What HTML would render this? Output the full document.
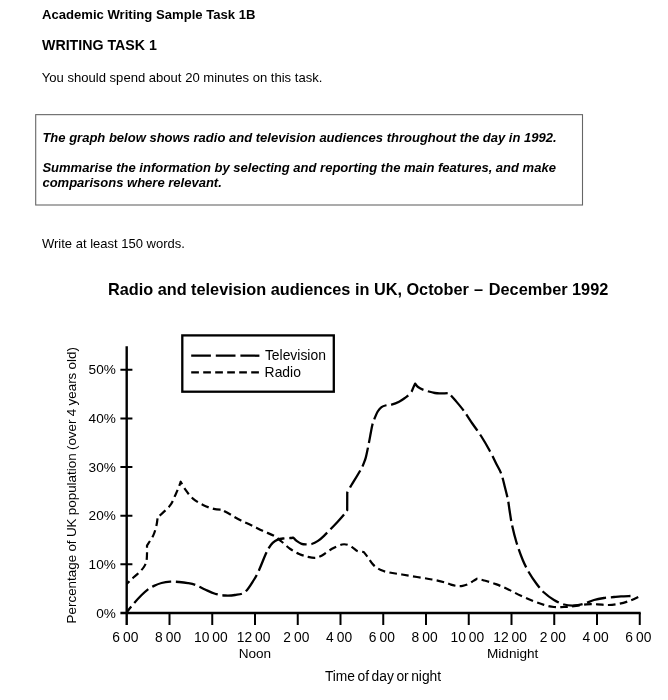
<!DOCTYPE html>
<html lang="en"><head><meta charset="utf-8"><title>Academic Writing Sample Task 1B</title>
<style>
html,body{margin:0;padding:0;background:#fff}
body{width:668px;height:700px;position:relative;overflow:hidden;font-family:"Liberation Sans",Arial,sans-serif;color:#000;font-size:13px}
.t{position:absolute;white-space:nowrap;line-height:15px;margin:0}
.b{font-weight:bold}
.bi{font-weight:bold;font-style:italic}
</style></head><body>
<div class="t b" style="left:42px;top:7.4px;font-size:13.1px">Academic Writing Sample Task 1B</div>
<div class="t b" style="left:42px;top:37.2px;font-size:14.2px;line-height:16px">WRITING TASK 1</div>
<div class="t" style="left:41.8px;top:70px;font-size:13.07px">You should spend about 20 minutes on this task.</div>
<div class="t bi" style="left:42.4px;top:130px;font-size:13.02px">The graph below shows radio and television audiences throughout the day in 1992.</div>
<div class="t bi" style="left:42.4px;top:160px;font-size:13.02px">Summarise the information by selecting and reporting the main features, and make</div>
<div class="t bi" style="left:42.4px;top:175.3px;font-size:13.02px">comparisons where relevant.</div>
<div class="t" style="left:42px;top:235.5px">Write at least 150 words.</div>
<div class="t b" style="left:107.9px;top:280.4px;font-size:16.3px;line-height:19px">Radio and television audiences in UK, October<span style="letter-spacing:0.6px"> – </span>December 1992</div>
<svg width="668" height="700" viewBox="0 0 668 700" style="position:absolute;left:0;top:0"><rect x="35.7" y="114.65" width="546.8" height="90.35" fill="none" stroke="#666" stroke-width="1.1"/><g fill="none" stroke="#000"><path d="M126.7,346.3V625" stroke-width="2.4"/><path d="M120.4,613.0H640.7" stroke-width="2.4"/><path d="M169.50,613.0V625M212.25,613.0V625M255.00,613.0V625M297.75,613.0V625M340.50,613.0V625M383.25,613.0V625M426.00,613.0V625M468.75,613.0V625M511.50,613.0V625M554.25,613.0V625M597.00,613.0V625M639.75,613.0V625M120.4,564.35H132.4M120.4,515.70H132.4M120.4,467.05H132.4M120.4,418.40H132.4M120.4,369.75H132.4" stroke-width="2"/><rect x="182.3" y="335.4" width="151.5" height="56.3" stroke-width="2.3"/><path d="M191.2,355.7H259.4" stroke-width="2.3" stroke-dasharray="19.7 4.9"/><path d="M191.2,372.4H259.4" stroke-width="2.3" stroke-dasharray="7.7 4.3"/><path d="M126.70,612.30C127.88,610.83 131.35,606.33 133.80,603.50C136.25,600.67 139.08,597.62 141.40,595.30C143.72,592.98 145.60,591.17 147.70,589.60C149.80,588.03 151.70,587.00 154.00,585.90C156.30,584.80 158.78,583.70 161.50,583.00C164.22,582.30 167.37,581.87 170.30,581.70C173.23,581.53 176.17,581.77 179.10,582.00C182.03,582.23 185.17,582.60 187.90,583.10C190.63,583.60 192.65,583.93 195.50,585.00C198.35,586.07 201.75,588.04 205.00,589.50C208.25,590.96 211.67,592.75 215.00,593.75C218.33,594.75 221.67,595.29 225.00,595.50C228.33,595.71 231.67,595.58 235.00,595.00C238.33,594.42 241.87,594.50 245.00,592.00C248.13,589.50 251.48,583.60 253.80,580.00C256.12,576.40 257.00,574.52 258.90,570.40C260.80,566.28 263.53,559.07 265.20,555.30C266.87,551.53 267.65,549.88 268.90,547.80C270.15,545.72 271.23,544.17 272.70,542.80C274.17,541.43 275.82,540.33 277.70,539.60C279.58,538.87 281.90,538.67 284.00,538.40C286.10,538.13 288.73,538.12 290.30,538.00C291.87,537.88 292.88,537.75 293.40,537.70C293.93,538.23 295.23,539.88 296.60,540.90C297.97,541.92 300.03,543.22 301.60,543.80C303.17,544.38 304.32,544.37 306.00,544.40C307.68,544.43 309.70,544.58 311.70,544.00C313.70,543.42 315.95,542.27 318.00,540.90C320.05,539.53 320.83,538.87 324.00,535.80C327.17,532.73 333.38,526.38 337.00,522.50C340.62,518.62 344.05,514.58 345.75,512.50C347.45,510.42 346.96,510.42 347.20,510.00L347.25,492.50C347.71,491.67 347.67,491.46 350.00,487.50C352.33,483.54 358.75,473.33 361.25,468.75C363.75,464.17 364.14,462.29 365.00,460.00C365.86,457.71 365.75,457.85 366.40,455.00C367.05,452.15 368.17,446.60 368.90,442.90C369.63,439.20 370.22,435.83 370.80,432.80C371.38,429.77 371.77,427.10 372.40,424.70C373.03,422.30 373.72,420.60 374.60,418.40C375.48,416.20 376.55,413.38 377.70,411.50C378.85,409.62 380.03,408.15 381.50,407.10C382.97,406.05 384.82,405.62 386.50,405.20C388.18,404.78 389.50,405.18 391.60,404.60C393.70,404.02 396.80,402.87 399.10,401.70C401.40,400.53 403.83,398.70 405.40,397.60C406.97,396.50 407.45,396.15 408.50,395.10C409.55,394.05 410.90,392.55 411.70,391.30C412.50,390.05 412.73,388.88 413.30,387.60C413.87,386.32 414.80,384.27 415.10,383.60C415.58,384.17 416.52,385.93 418.00,387.00C419.48,388.07 421.17,389.00 424.00,390.00C426.83,391.00 431.92,392.45 435.00,393.00C438.08,393.55 440.21,393.30 442.50,393.30C444.79,393.30 447.71,393.05 448.75,393.00C449.79,394.17 452.50,397.04 455.00,400.00C457.50,402.96 460.83,406.79 463.75,410.75C466.67,414.71 469.58,419.50 472.50,423.75C475.42,428.00 478.33,431.67 481.25,436.25C484.17,440.83 487.50,446.67 490.00,451.25C492.50,455.83 494.38,460.00 496.25,463.75C498.12,467.50 499.79,469.79 501.25,473.75C502.71,477.71 503.88,483.12 505.00,487.50C506.12,491.88 507.25,496.25 508.00,500.00C508.75,503.75 508.83,505.83 509.50,510.00C510.17,514.17 510.83,519.58 512.00,525.00C513.17,530.42 514.71,536.67 516.50,542.50C518.29,548.33 520.67,555.00 522.75,560.00C524.83,565.00 526.71,568.54 529.00,572.50C531.29,576.46 534.00,580.42 536.50,583.75C539.00,587.08 541.08,589.79 544.00,592.50C546.92,595.21 550.67,598.00 554.00,600.00C557.33,602.00 560.67,603.58 564.00,604.50C567.33,605.42 570.67,605.62 574.00,605.50C577.33,605.38 580.67,604.67 584.00,603.75C587.33,602.83 590.67,600.96 594.00,600.00C597.33,599.04 600.67,598.50 604.00,598.00C607.33,597.50 611.17,597.27 614.00,597.00C616.83,596.73 618.20,596.57 621.00,596.40C623.80,596.23 629.17,596.07 630.80,596.00" stroke-width="2.3" stroke-dasharray="19.7 4.7" stroke-dashoffset="12.4" stroke-linejoin="round"/><path d="M126.70,584.00C127.68,583.05 130.57,580.18 132.60,578.30C134.63,576.42 137.02,574.58 138.90,572.70C140.78,570.82 142.65,568.90 143.90,567.00C145.15,565.10 145.88,563.50 146.40,561.30C146.92,559.10 146.90,556.43 147.00,553.80C147.10,551.17 147.00,546.88 147.00,545.50C148.05,543.82 151.72,538.77 153.30,535.40C154.88,532.03 155.77,528.40 156.50,525.30C157.23,522.20 157.50,518.22 157.70,516.80C158.33,516.33 159.40,515.93 161.50,514.00C163.60,512.07 168.00,508.33 170.30,505.20C172.60,502.07 173.83,498.35 175.30,495.20C176.77,492.05 178.20,488.55 179.10,486.30C180.00,484.05 180.43,482.47 180.70,481.70C181.48,483.03 183.37,486.88 185.40,489.70C187.43,492.52 189.97,496.05 192.90,498.60C195.83,501.15 199.53,503.28 203.00,505.00C206.47,506.72 210.65,508.12 213.75,508.90C216.85,509.68 220.29,509.57 221.60,509.70C223.00,510.47 226.93,512.57 230.00,514.30C233.07,516.03 236.45,518.28 240.00,520.10C243.55,521.92 247.53,523.42 251.30,525.20C255.07,526.98 258.82,529.03 262.60,530.80C266.38,532.57 270.85,534.02 274.00,535.80C277.15,537.58 278.78,539.30 281.50,541.50C284.22,543.70 287.37,546.92 290.30,549.00C293.23,551.08 296.17,552.70 299.10,554.00C302.03,555.30 305.17,556.17 307.90,556.80C310.63,557.43 313.15,558.02 315.50,557.80C317.85,557.58 319.25,557.01 322.00,555.50C324.75,553.99 328.67,550.58 332.00,548.75C335.33,546.92 339.29,545.12 342.00,544.50C344.71,543.88 346.42,544.43 348.25,545.00C350.08,545.57 351.43,546.87 353.00,547.90C354.57,548.93 355.92,550.52 357.70,551.20C359.48,551.88 362.70,551.87 363.70,552.00C364.32,552.78 365.78,554.55 367.40,556.70C369.02,558.85 371.15,562.67 373.40,564.90C375.65,567.13 378.22,568.83 380.90,570.10C383.58,571.37 385.98,571.77 389.50,572.50C393.02,573.23 397.42,573.75 402.00,574.50C406.58,575.25 412.00,576.17 417.00,577.00C422.00,577.83 427.42,578.62 432.00,579.50C436.58,580.38 441.33,581.45 444.50,582.30C447.67,583.15 449.03,584.00 451.00,584.60C452.97,585.20 454.37,585.70 456.30,585.90C458.23,586.10 460.50,586.15 462.60,585.80C464.70,585.45 467.10,584.62 468.90,583.80C470.70,582.98 472.05,581.75 473.40,580.90C474.75,580.05 476.40,579.07 477.00,578.70C478.05,578.95 480.15,579.30 483.30,580.20C486.45,581.10 491.72,582.55 495.90,584.10C500.08,585.65 504.22,587.55 508.40,589.50C512.58,591.45 516.80,593.85 521.00,595.80C525.20,597.75 529.77,599.68 533.60,601.20C537.43,602.72 540.60,603.93 544.00,604.90C547.40,605.87 550.67,606.65 554.00,607.00C557.33,607.35 560.67,607.12 564.00,607.00C567.33,606.88 570.25,606.70 574.00,606.25C577.75,605.80 582.58,604.62 586.50,604.30C590.42,603.97 593.82,604.18 597.50,604.30C601.18,604.42 604.90,605.10 608.60,605.00C612.30,604.90 616.00,604.47 619.70,603.70C623.40,602.93 627.37,601.68 630.80,600.40C634.23,599.12 638.72,596.73 640.30,596.00" stroke-width="2.2" stroke-dasharray="7.66 4.3" stroke-dashoffset="3.85" stroke-linejoin="round"/></g><g font-family="'Liberation Sans',Arial,sans-serif" fill="#000"><text x="125.35" y="641.70" font-size="13.80" word-spacing="-0.90" text-anchor="middle">6 00</text><text x="168.10" y="641.70" font-size="13.80" word-spacing="-0.90" text-anchor="middle">8 00</text><text x="210.85" y="641.70" font-size="13.80" word-spacing="-0.90" text-anchor="middle">10 00</text><text x="253.60" y="641.70" font-size="13.80" word-spacing="-0.90" text-anchor="middle">12 00</text><text x="296.35" y="641.70" font-size="13.80" word-spacing="-0.90" text-anchor="middle">2 00</text><text x="339.10" y="641.70" font-size="13.80" word-spacing="-0.90" text-anchor="middle">4 00</text><text x="381.85" y="641.70" font-size="13.80" word-spacing="-0.90" text-anchor="middle">6 00</text><text x="424.60" y="641.70" font-size="13.80" word-spacing="-0.90" text-anchor="middle">8 00</text><text x="467.35" y="641.70" font-size="13.80" word-spacing="-0.90" text-anchor="middle">10 00</text><text x="510.10" y="641.70" font-size="13.80" word-spacing="-0.90" text-anchor="middle">12 00</text><text x="552.85" y="641.70" font-size="13.80" word-spacing="-0.90" text-anchor="middle">2 00</text><text x="595.60" y="641.70" font-size="13.80" word-spacing="-0.90" text-anchor="middle">4 00</text><text x="638.35" y="641.70" font-size="13.80" word-spacing="-0.90" text-anchor="middle">6 00</text><text x="115.80" y="617.70" font-size="13.60" text-anchor="end">0%</text><text x="115.80" y="569.05" font-size="13.60" text-anchor="end">10%</text><text x="115.80" y="520.40" font-size="13.60" text-anchor="end">20%</text><text x="115.80" y="471.75" font-size="13.60" text-anchor="end">30%</text><text x="115.80" y="423.10" font-size="13.60" text-anchor="end">40%</text><text x="115.80" y="374.45" font-size="13.60" text-anchor="end">50%</text><text x="254.90" y="657.50" font-size="13.60" text-anchor="middle">Noon</text><text x="487.00" y="657.50" font-size="13.60">Midnight</text><text x="324.90" y="680.80" font-size="13.80" word-spacing="-1.30">Time of day or night</text><text x="264.90" y="360.40" font-size="13.90">Television</text><text x="264.60" y="376.50" font-size="13.90">Radio</text><text transform="translate(76.10,623.40) rotate(-90)" font-size="13.40" word-spacing="-0.40">Percentage of UK population (over 4 years old)</text></g></svg>
</body></html>
